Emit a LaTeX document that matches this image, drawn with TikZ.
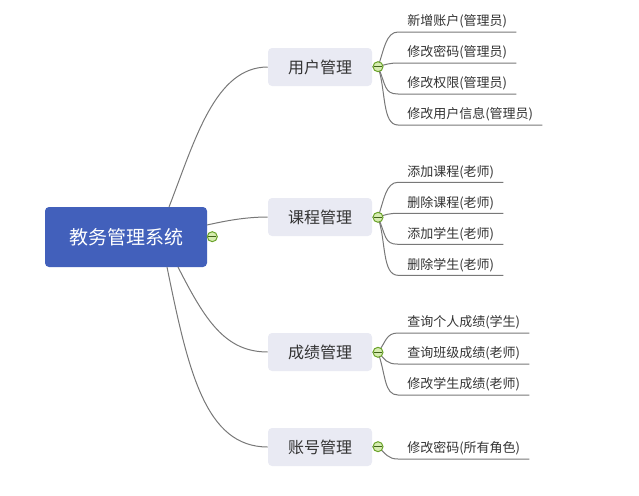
\documentclass[tikz,border=0pt]{standalone}
\usepackage{fontspec}
\setmainfont{Noto Sans CJK SC}
\usetikzlibrary{backgrounds}
\tikzset{
    rootbox/.style={fill=rootblue, text=white, rounded corners=3pt, minimum width=121.5pt, minimum height=45pt, font=\fontsize{14.25}{17}\selectfont},
    topicbox/.style={fill=topicgrey, text=textgrey, rounded corners=3pt, minimum width=78pt, minimum height=28.5pt, font=\fontsize{12}{14}\selectfont},
    leafbox/.style={anchor=south west, text=textgrey, inner xsep=6.75pt, inner ysep=0pt, minimum height=15pt, font=\fontsize{9.75}{12}\selectfont},
    togglebox/.style={circle, draw=togglegreen, fill=togglefill, line width=0.75pt, inner sep=0pt, minimum size=7.5pt},
    branch/.style={draw=linegrey, line width=0.75pt},
    minus/.style={draw=togglegreen!60!black, line width=0.75pt, shorten <=1pt, shorten >=1pt}
}
\definecolor{rootblue}{RGB}{66,96,187}
\definecolor{topicgrey}{RGB}{233,234,243}
\definecolor{textgrey}{RGB}{51,51,51}
\definecolor{linegrey}{RGB}{120,120,120}
\definecolor{togglegreen}{RGB}{106,163,42}
\definecolor{togglefill}{RGB}{214,236,176}
\begin{document}
\begin{tikzpicture}[x=0.75pt, y=-0.75pt]
    \useasboundingbox (0,0) rectangle (639,496);

    \node[rootbox] (sys) at (126,237) {教务管理系统};
    \node[togglebox] (togsys) at (212.3,236.7) {};

    \node[topicbox] (user) at (320,67) {用户管理};
    \node[topicbox] (course) at (320,217) {课程管理};
    \node[topicbox] (grade) at (320,352) {成绩管理};
    \node[topicbox] (account) at (320,447) {账号管理};

    \node[togglebox] (toguser) at (378,66.7) {};
    \node[togglebox] (togcourse) at (378,217.3) {};
    \node[togglebox] (toggrade) at (378,352.3) {};
    \node[togglebox] (togaccount) at (378,446.7) {};

    \node[leafbox] (usera) at (398,32) {新增账户(管理员)};
    \node[leafbox] (userb) at (398,63) {修改密码(管理员)};
    \node[leafbox] (userc) at (398,94) {修改权限(管理员)};
    \node[leafbox] (userd) at (398,125) {修改用户信息(管理员)};

    \node[leafbox] (coursea) at (398,182.3) {添加课程(老师)};
    \node[leafbox] (courseb) at (398,213.3) {删除课程(老师)};
    \node[leafbox] (coursec) at (398,244.3) {添加学生(老师)};
    \node[leafbox] (coursed) at (398,275.3) {删除学生(老师)};

    \node[leafbox] (gradea) at (398,333) {查询个人成绩(学生)};
    \node[leafbox] (gradeb) at (398,364) {查询班级成绩(老师)};
    \node[leafbox] (gradec) at (398,395) {修改学生成绩(老师)};

    \node[leafbox] (accounta) at (398,459) {修改密码(所有角色)};

    \coordinate (sysa) at (169,207);
    \coordinate (sysb) at (207,225);
    \coordinate (sysc) at (178,267);
    \coordinate (sysd) at (167,267);

    \draw[branch] (sysa) .. controls (195,140) and (215,67) .. (user.west);
    \draw[branch] (sysb) .. controls (225,221) and (245,217) .. (course.west);
    \draw[branch] (sysc) .. controls (205,320) and (225,352) .. (grade.west);
    \draw[branch] (sysd) .. controls (188,370) and (205,447) .. (account.west);

    \begin{scope}[on background layer]
        \draw[branch] (user.east) -- (toguser.center);
        \draw[branch] (course.east) -- (togcourse.center);
        \draw[branch] (grade.east) -- (toggrade.center);
        \draw[branch] (account.east) -- (togaccount.center);

        \draw[branch] (toguser.center) .. controls (384,50) and (386,32) .. (usera.south west) -- (usera.south east);
        \draw[branch] (toguser.center) .. controls (385,64.5) and (390,63) .. (userb.south west) -- (userb.south east);
        \draw[branch] (toguser.center) .. controls (386,85) and (384,94) .. (userc.south west) -- (userc.south east);
        \draw[branch] (toguser.center) .. controls (386,90) and (382,125) .. (userd.south west) -- (userd.south east);

        \draw[branch] (togcourse.center) .. controls (384,200) and (386,182.3) .. (coursea.south west) -- (coursea.south east);
        \draw[branch] (togcourse.center) .. controls (385,214.5) and (390,213.3) .. (courseb.south west) -- (courseb.south east);
        \draw[branch] (togcourse.center) .. controls (386,235) and (384,244.3) .. (coursec.south west) -- (coursec.south east);
        \draw[branch] (togcourse.center) .. controls (386,240) and (382,275.3) .. (coursed.south west) -- (coursed.south east);

        \draw[branch] (toggrade.center) .. controls (386,342) and (386,333) .. (gradea.south west) -- (gradea.south east);
        \draw[branch] (toggrade.center) .. controls (386,360) and (386,364) .. (gradeb.south west) -- (gradeb.south east);
        \draw[branch] (toggrade.center) .. controls (386,375) and (384,395) .. (gradec.south west) -- (gradec.south east);

        \draw[branch] (togaccount.center) .. controls (386,454) and (388,459) .. (accounta.south west) -- (accounta.south east);
    \end{scope}

    \draw[minus] (togsys.west) -- (togsys.east);
    \draw[minus] (toguser.west) -- (toguser.east);
    \draw[minus] (togcourse.west) -- (togcourse.east);
    \draw[minus] (toggrade.west) -- (toggrade.east);
    \draw[minus] (togaccount.west) -- (togaccount.east);
\end{tikzpicture}
\end{document}
